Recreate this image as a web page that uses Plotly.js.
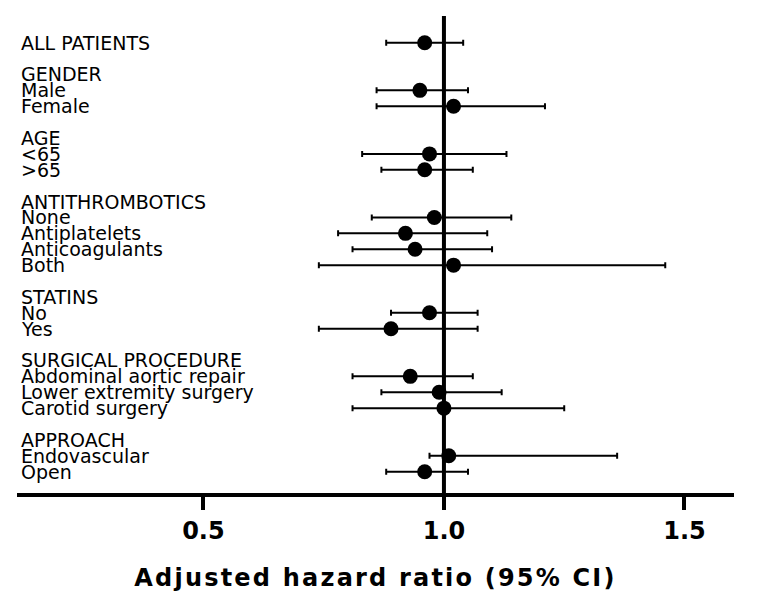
<!DOCTYPE html>
<html><head><meta charset="utf-8">
<script src="https://cdn.plot.ly/plotly-3.0.1.min.js"></script>
<style>
html,body{margin:0;padding:0;background:#fff}
#chart{width:765px;height:599px}
.xtitle{letter-spacing:2.2px}
</style>
</head><body><div id="chart"></div>
<script>
// ---- data ----
const groupHeaders = ['', 'GENDER', 'AGE', 'ANTITHROMBOTICS', 'STATINS', 'SURGICAL PROCEDURE', 'APPROACH'];
const groupSizes = [1, 2, 2, 4, 2, 3, 2];
const subgroups = ['ALL PATIENTS', 'Male', 'Female', '<65', '>65', 'None', 'Antiplatelets', 'Anticoagulants', 'Both',
  'No', 'Yes', 'Abdominal aortic repair', 'Lower extremity surgery', 'Carotid surgery', 'Endovascular', 'Open'];
const hazardRatio = [0.96, 0.95, 1.02, 0.97, 0.96, 0.98, 0.92, 0.94, 1.02, 0.97, 0.89, 0.93, 0.99, 1.00, 1.01, 0.96];
const ciLower     = [0.88, 0.86, 0.86, 0.83, 0.87, 0.85, 0.78, 0.81, 0.74, 0.89, 0.74, 0.81, 0.87, 0.81, 0.97, 0.88];
const ciUpper     = [1.04, 1.05, 1.21, 1.13, 1.06, 1.14, 1.09, 1.10, 1.46, 1.07, 1.07, 1.06, 1.12, 1.25, 1.36, 1.05];
const tickValues = [0.5, 1.0, 1.5];
const tickLabels = ['0.5', '1.0', '1.5'];
const xTitle = 'Adjusted hazard ratio (95% CI)';

// ---- row layout ----
const labelRows = [], labelTexts = [], dataRows = [];
let r = 0, s = 0;
groupHeaders.forEach((h, g) => {
  if (h) { labelRows.push(r); labelTexts.push(h); r++; }
  for (let i = 0; i < groupSizes[g]; i++) {
    labelRows.push(r); labelTexts.push(subgroups[s]); dataRows.push(r); s++; r++;
  }
  r++;
});

const trace = {
  type: 'scatter', mode: 'markers',
  x: hazardRatio, y: dataRows,
  marker: {color: '#000', size: 15},
  error_x: {
    type: 'data', symmetric: false,
    array: ciUpper.map((u, i) => u - hazardRatio[i]),
    arrayminus: ciLower.map((l, i) => hazardRatio[i] - l),
    color: '#000', thickness: 2, width: 3
  },
  hoverinfo: 'x+y'
};

const annotations = labelRows.map((row, i) => ({
  xref: 'paper', x: 0, xanchor: 'left', xshift: 2,
  yref: 'y', y: row, yanchor: 'middle',
  text: labelTexts[i], showarrow: false,
  font: {family: 'DejaVu Sans', size: 19, color: '#000'}
}));

const layout = {
  width: 765, height: 599,
  margin: {l: 17, r: 31, t: 16, b: 106},
  paper_bgcolor: '#fff', plot_bgcolor: '#fff',
  showlegend: false,
  xaxis: {
    range: [0.1126, 1.6029],
    tickmode: 'array', tickvals: tickValues, ticktext: tickLabels,
    showline: true, linecolor: '#000', linewidth: 4,
    ticks: 'outside', ticklen: 13, tickwidth: 4, tickcolor: '#000',
    tickfont: {family: 'DejaVu Sans', size: 24, color: '#000', weight: 'bold'},
    showgrid: false, zeroline: false,
    title: {text: xTitle, font: {family: 'DejaVu Sans', size: 24, color: '#000', weight: 'bold'}, standoff: 26}
  },
  yaxis: {
    range: [28.34, -1.68],
    showticklabels: false, showgrid: false, zeroline: false, showline: false, ticks: ''
  },
  shapes: [{
    type: 'line', xref: 'x', x0: 1, x1: 1, yref: 'paper', y0: 0, y1: 1,
    line: {color: '#000', width: 4}, layer: 'above'
  }],
  annotations: annotations
};

Plotly.newPlot('chart', [trace], layout, {displayModeBar: false, staticPlot: true});
</script>
</body></html>
